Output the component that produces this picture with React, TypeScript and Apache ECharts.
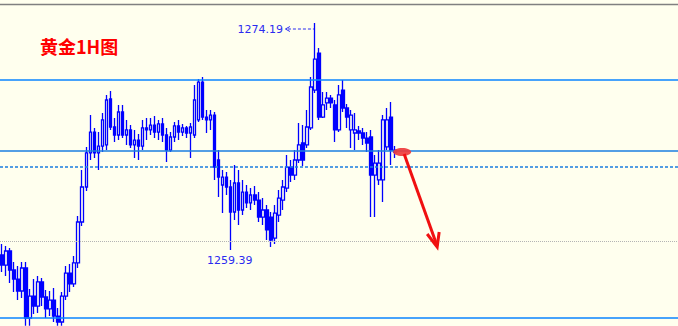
import { useEffect, useRef } from "react";
import * as echarts from "echarts";

const slotCount = 169;
const barLabels = Array.from({ length: 99 }, (_, i) => `H${i + 1}`);

const opens = [
  1259.07, 1258.41, 1259.33, 1258.09, 1257.5, 1256.72, 1258.22, 1254.96, 1256.39, 1255.74,
  1257.31, 1256.33, 1255.55, 1256.13, 1255.09, 1254.7, 1256.39, 1257.89, 1257.18, 1258.55,
  1261.22, 1263.5, 1265.72, 1267.08, 1265.72, 1266.17, 1266.24, 1269.24, 1267.41, 1266.89,
  1268.39, 1266.89, 1267.22, 1266.24, 1266.56, 1266.17, 1267.35, 1267.22, 1267.54, 1267.08,
  1267.61, 1266.89, 1265.91, 1266.76, 1267.48, 1267.08, 1267.35, 1267.02, 1266.89, 1267.87,
  1270.34, 1268.06, 1267.87, 1268.19, 1265.26, 1263.63, 1264.15, 1263.5, 1261.87, 1263.76,
  1262.0, 1263.17, 1262.46, 1262.98, 1262.65, 1261.54, 1262.0, 1261.54, 1260.17, 1261.67,
  1262.65, 1263.43, 1264.8, 1264.28, 1265.26, 1266.37, 1266.24, 1267.35, 1269.82, 1272.23,
  1268.06, 1268.98, 1269.3, 1268.85, 1267.22, 1269.82, 1268.65, 1267.22, 1267.02, 1267.15,
  1267.02, 1266.69, 1266.76, 1264.28, 1263.96, 1263.96, 1266.11, 1268.06, 1265.91,
];
const closes = [
  1258.41, 1259.33, 1258.09, 1257.5, 1256.72, 1258.22, 1254.96, 1256.39, 1255.74, 1257.31,
  1256.33, 1255.55, 1256.13, 1255.09, 1254.7, 1256.39, 1257.89, 1257.18, 1258.55, 1261.22,
  1263.5, 1265.72, 1267.08, 1265.72, 1266.17, 1267.87, 1269.17, 1267.41, 1266.89, 1268.39,
  1266.89, 1267.22, 1266.24, 1266.56, 1266.17, 1267.35, 1267.22, 1267.54, 1267.08, 1267.61,
  1266.89, 1265.91, 1266.76, 1267.48, 1267.08, 1267.35, 1267.02, 1267.41, 1269.17, 1270.34,
  1268.06, 1267.87, 1268.19, 1264.8, 1264.15, 1264.15, 1263.5, 1261.87, 1263.76, 1262.0,
  1263.17, 1262.46, 1262.98, 1262.65, 1261.54, 1262.0, 1260.7, 1260.04, 1261.8, 1262.78,
  1263.5, 1264.8, 1264.28, 1265.26, 1266.24, 1265.26, 1267.41, 1270.02, 1271.84, 1268.06,
  1268.85, 1269.3, 1268.98, 1267.22, 1269.5, 1268.65, 1268.06, 1268.19, 1267.22, 1267.02,
  1266.69, 1266.37, 1264.28, 1265.06, 1265.06, 1267.87, 1267.87, 1265.91, 1265.78,
];
const lows = [
  1257.96, 1257.7, 1257.24, 1256.65, 1256.13, 1256.26, 1254.46, 1254.46, 1255.22, 1255.29,
  1255.74, 1254.96, 1255.09, 1254.7, 1254.46, 1254.46, 1256.13, 1256.65, 1256.98, 1258.22,
  1260.96, 1263.24, 1265.26, 1265.39, 1264.61, 1265.78, 1265.91, 1267.22, 1266.43, 1266.56,
  1266.69, 1266.24, 1266.04, 1265.39, 1265.26, 1265.91, 1266.56, 1266.89, 1266.69, 1266.56,
  1266.43, 1265.13, 1265.78, 1266.43, 1266.56, 1266.82, 1266.69, 1265.39, 1266.69, 1267.74,
  1267.87, 1267.02, 1267.22, 1263.96, 1262.85, 1261.8, 1262.98, 1259.39, 1261.35, 1261.02,
  1261.67, 1262.13, 1262.0, 1262.33, 1261.22, 1261.02, 1260.04, 1259.59, 1259.78, 1261.22,
  1262.0, 1263.17, 1263.83, 1263.96, 1265.06, 1264.87, 1266.04, 1267.22, 1269.63, 1267.87,
  1268.0, 1268.52, 1268.65, 1266.43, 1267.08, 1268.39, 1267.35, 1266.04, 1265.91, 1266.56,
  1266.24, 1265.78, 1261.54, 1261.54, 1263.63, 1262.52, 1265.91, 1264.93, 1265.39,
];
const highs = [
  1259.78, 1259.65, 1259.52, 1258.61, 1258.35, 1258.61, 1258.61, 1256.85, 1257.5, 1257.7,
  1257.57, 1256.78, 1256.72, 1256.92, 1255.61, 1256.65, 1258.35, 1258.48, 1259.0, 1261.61,
  1264.61, 1266.11, 1268.19, 1267.35, 1267.08, 1268.32, 1269.5, 1269.76, 1268.0, 1268.85,
  1268.85, 1267.87, 1267.54, 1267.22, 1266.95, 1267.87, 1268.0, 1268.0, 1268.13, 1267.87,
  1268.0, 1267.35, 1267.08, 1267.74, 1267.87, 1267.61, 1267.48, 1267.67, 1270.15, 1270.54,
  1270.67, 1268.52, 1268.52, 1268.39, 1265.91, 1264.61, 1264.48, 1263.96, 1264.93, 1264.61,
  1263.96, 1263.63, 1263.43, 1263.56, 1263.17, 1262.78, 1262.33, 1261.87, 1262.33, 1263.3,
  1263.96, 1265.59, 1265.26, 1265.91, 1267.67, 1267.54, 1268.52, 1270.67, 1274.19, 1272.56,
  1269.69, 1269.69, 1269.5, 1269.17, 1270.15, 1270.47, 1268.91, 1268.52, 1268.32, 1267.48,
  1267.35, 1267.08, 1267.22, 1265.59, 1265.91, 1268.19, 1268.65, 1269.04, 1266.17,
];

const priceMin = 1254.44;
const priceMax = 1275.69;
const resistanceLevels = [1270.47, 1265.85];
const supportLevels = [1264.8, 1259.98, 1254.96];
const peakValue = 1274.19;
const troughValue = 1259.39;
const titleText = "黄金1H图";

export default function App() {
  const ref = useRef<HTMLDivElement>(null);
  useEffect(() => {
    document.body.style.margin = "0";
    const chart = echarts.init(ref.current!, undefined, { renderer: "svg" });
    const categories = [
      ...barLabels,
      ...Array.from({ length: slotCount - barLabels.length }, (_, i) => `E${i + 1}`),
    ];
    const data = opens.map((o, i) => [o, closes[i], lows[i], highs[i]]);
    const blue = "#0A84FF";
    const blue2 = "#1A7EE0";
    chart.setOption({
      animation: false,
      backgroundColor: "#FFFFEE",
      grid: { left: 0, right: 0, top: 0, bottom: 0 },
      xAxis: { type: "category", data: categories, show: false },
      yAxis: { type: "value", min: priceMin, max: priceMax, show: false, splitLine: { show: false } },
      series: [
        {
          type: "candlestick",
          data,
          barWidth: 3,
          itemStyle: {
            color: "#FFFFEE",
            color0: "#0000FF",
            borderColor: "#0000FF",
            borderColor0: "#0000FF",
            borderWidth: 1.3,
          },
          markLine: {
            silent: true,
            symbol: "none",
            label: { show: false },
            data: [
              { yAxis: resistanceLevels[0], lineStyle: { color: blue, width: 1.6, type: "solid" } },
              { yAxis: resistanceLevels[1], lineStyle: { color: blue2, width: 1.6, type: "solid" } },
              { yAxis: supportLevels[0], lineStyle: { color: blue2, width: 1.5, type: [3, 2] } },
              { yAxis: supportLevels[1], lineStyle: { color: "#B4B4B4", width: 1, type: [1, 1] } },
              { yAxis: supportLevels[2], lineStyle: { color: blue, width: 1.6, type: "solid" } },
            ],
          },
        },
      ],
    });

    const peakIdx = highs.indexOf(peakValue);
    const troughIdx = lows.indexOf(troughValue);
    const hi = chart.convertToPixel({ gridIndex: 0 }, [categories[peakIdx], peakValue]) as number[];
    const lo = chart.convertToPixel({ gridIndex: 0 }, [categories[troughIdx], troughValue]) as number[];
    const labelColor = "#2B2BF0";
    const last = chart.convertToPixel({ gridIndex: 0 }, [categories[closes.length - 1], closes[closes.length - 1]]) as number[];

    chart.setOption({
      graphic: [
        { type: "line", shape: { x1: 0, y1: 4.5, x2: 678, y2: 4.5 }, style: { stroke: "#808080", lineWidth: 1.5 } },
        {
          type: "text",
          left: 40,
          top: 37,
          z: 100,
          style: { text: titleText, fill: "#FF0000", font: 'bold 18px "Noto Sans CJK SC", sans-serif' },
        },
        {
          type: "text",
          x: hi[0] - 32,
          y: hi[1] + 6,
          z: 100,
          style: {
            text: peakValue.toFixed(2),
            fill: labelColor,
            font: '11px "DejaVu Sans", sans-serif',
            align: "right",
            verticalAlign: "middle",
          },
        },
        {
          type: "line",
          z: 100,
          shape: { x1: hi[0] - 27, y1: hi[1] + 6, x2: hi[0] - 1, y2: hi[1] + 6 },
          style: { stroke: labelColor, lineWidth: 1, lineDash: [3, 2] },
        },
        {
          type: "polyline",
          z: 100,
          shape: { points: [[hi[0] - 25, hi[1] + 3.5], [hi[0] - 29.5, hi[1] + 6], [hi[0] - 25, hi[1] + 8.5]] },
          style: { stroke: labelColor, lineWidth: 1, fill: "none" },
        },
        {
          type: "text",
          x: lo[0] - 1,
          y: lo[1] + 10,
          z: 100,
          style: {
            text: troughValue.toFixed(2),
            fill: labelColor,
            font: '11px "DejaVu Sans", sans-serif',
            align: "center",
            verticalAlign: "middle",
          },
        },
        {
          type: "ellipse",
          z: 100,
          shape: { cx: last[0] + 7, cy: last[1], rx: 9, ry: 4 },
          style: { fill: "#EE3C3C", opacity: 0.92 },
        },
        {
          type: "line",
          z: 100,
          shape: { x1: last[0] + 9, y1: last[1] + 2, x2: last[0] + 42, y2: last[1] + 94 },
          style: { stroke: "#F01010", lineWidth: 3 },
        },
        {
          type: "polyline",
          z: 100,
          shape: {
            points: [
              [last[0] + 32, last[1] + 82],
              [last[0] + 42, last[1] + 95],
              [last[0] + 44, last[1] + 80],
            ],
          },
          style: { stroke: "#F01010", lineWidth: 3, fill: "none" },
        },
      ],
    });
    return () => chart.dispose();
  }, []);
  return <div ref={ref} style={{ width: 678, height: 326 }} />;
}
